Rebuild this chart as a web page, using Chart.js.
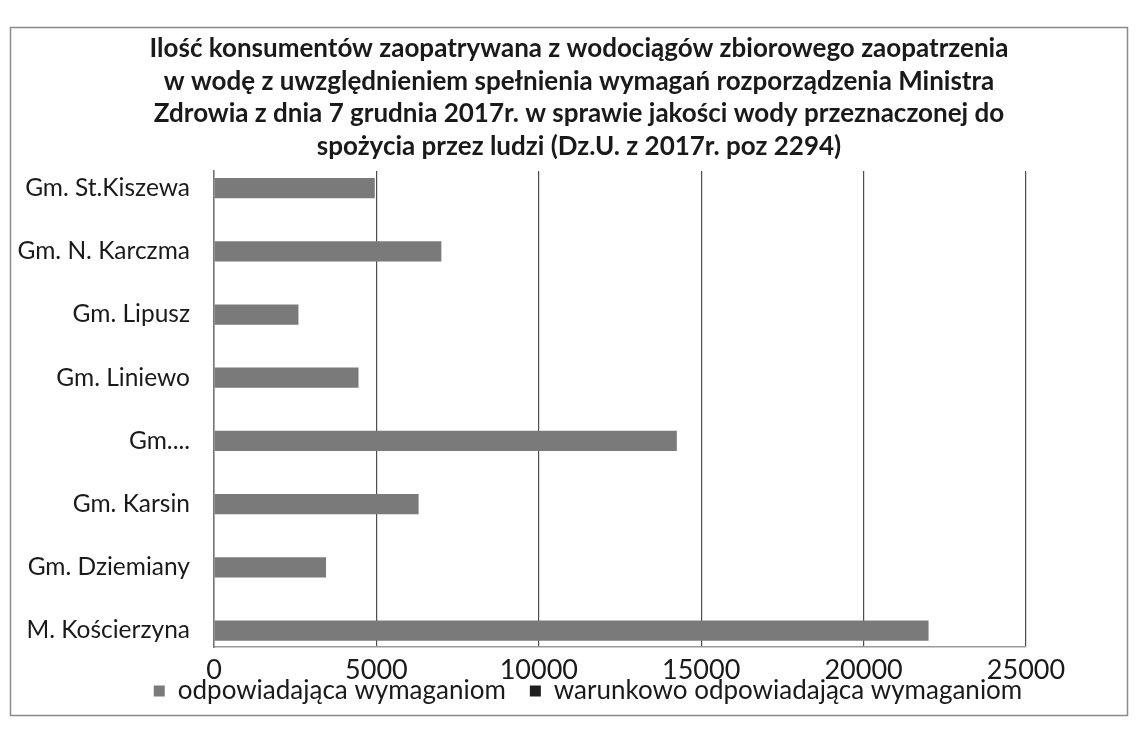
<!DOCTYPE html>
<html>
<head>
<meta charset="utf-8">
<script src="https://cdn.jsdelivr.net/npm/chart.js@4.4.1/dist/chart.umd.min.js"></script>
<style>
  html, body { margin: 0; padding: 0; background: #fff; }
</style>
</head>
<body>
<canvas id="chart" width="1139" height="735"></canvas>
<script>
// categories, top to bottom as in the picture
const categories = [
  "Gm. St.Kiszewa",
  "Gm. N. Karczma",
  "Gm. Lipusz",
  "Gm. Liniewo",
  "Gm....",
  "Gm. Karsin",
  "Gm. Dziemiany",
  "M. Kościerzyna",
];
const seriesNames = ["odpowiadająca wymaganiom", "warunkowo odpowiadająca wymaganiom"];
const meetsRequirements = [4950, 7000, 2600, 4450, 14250, 6300, 3450, 22000];
const conditionallyMeets = [0, 0, 0, 0, 0, 0, 0, 0];
const xTicks = [0, 5000, 10000, 15000, 20000, 25000];

const titleLines = [
  "Ilość konsumentów zaopatrywana z wodociągów zbiorowego zaopatrzenia",
  "w wodę z uwzględnieniem spełnienia wymagań rozporządzenia Ministra",
  "Zdrowia z dnia 7 grudnia 2017r. w sprawie jakości wody przeznaczonej do",
  "spożycia przez ludzi (Dz.U. z 2017r. poz 2294)",
];

const FONT = "Lato, 'Open Sans', sans-serif";

// category index used as the y position of each bar
const toPoints = (values) => values.map((v, i) => ({ x: v, y: i }));

// thin frame round the whole chart, like the scanned border
const frame = {
  id: "frame",
  beforeDraw(chart) {
    const ctx = chart.ctx;
    ctx.save();
    ctx.strokeStyle = "#8a8a8a";
    ctx.lineWidth = 1.5;
    ctx.strokeRect(10.5, 27.5, 1117, 688);
    ctx.restore();
  },
};

// title and legend sit centred over the plot, legend tucked under the ticks
const shiftBlocks = {
  id: "shiftBlocks",
  afterLayout(chart) {
    if (chart.titleBlock) {
      chart.titleBlock.left = 132;
    }
    if (chart.legend) {
      chart.legend.left = 116;
      chart.legend.right = 1060;
      chart.legend.top -= 40;
      chart.legend.bottom -= 40;
    }
  },
};

new Chart(document.getElementById("chart"), {
  type: "bar",
  data: {
    datasets: [
      {
        label: seriesNames[0],
        data: toPoints(meetsRequirements),
        backgroundColor: "#7a7a7a",
        borderWidth: 0,
        barPercentage: 0.32,
        categoryPercentage: 1,
      },
      {
        label: seriesNames[1],
        data: toPoints(conditionallyMeets),
        backgroundColor: "#1e1e1e",
        borderWidth: 0,
        barPercentage: 0.32,
        categoryPercentage: 1,
      },
    ],
  },
  plugins: [frame, shiftBlocks],
  options: {
    indexAxis: "y", // horizontal bars
    responsive: false,
    animation: false,
    events: [],
    layout: { padding: { left: 10, right: 113, top: 32, bottom: -19 } },
    scales: {
      x: {
        min: 0,
        max: 25000,
        afterBuildTicks: (axis) => {
          axis.ticks = xTicks.map((v) => ({ value: v }));
        },
        grid: { color: "#4d4d4d", lineWidth: 1.2, drawTicks: false },
        border: { color: "#9a9a9a", width: 1.5 },
        ticks: {
          color: "#1a1a1a",
          padding: 10,
          font: { family: FONT, size: 27, lineHeight: 1 },
          maxRotation: 0,
          callback: (v) => String(v),
        },
      },
      y: {
        type: "linear",
        reverse: true,
        stacked: true,
        offset: false,
        min: -0.27,
        max: 7.26,
        afterBuildTicks: (axis) => {
          axis.ticks = categories.map((c, i) => ({ value: i }));
        },
        afterFit: (axis) => {
          axis.width = 204;
        },
        grid: { display: false, drawTicks: false, offset: false },
        border: { color: "#777", width: 1.5 },
        ticks: {
          color: "#1a1a1a",
          padding: 24,
          font: { family: FONT, size: 24.5 },
          callback: (v) => categories[v],
        },
      },
    },
    plugins: {
      title: {
        display: true,
        text: titleLines,
        color: "#1a1a1a",
        font: { family: FONT, size: 26, weight: "bold", lineHeight: 1.26 },
        padding: { top: 0, bottom: 8 },
      },
      legend: {
        position: "bottom",
        labels: {
          color: "#1a1a1a",
          boxWidth: 11,
          boxHeight: 11,
          padding: 24,
          font: { family: FONT, size: 26 },
        },
      },
      tooltip: { enabled: false },
    },
  },
});
</script>
</body>
</html>
